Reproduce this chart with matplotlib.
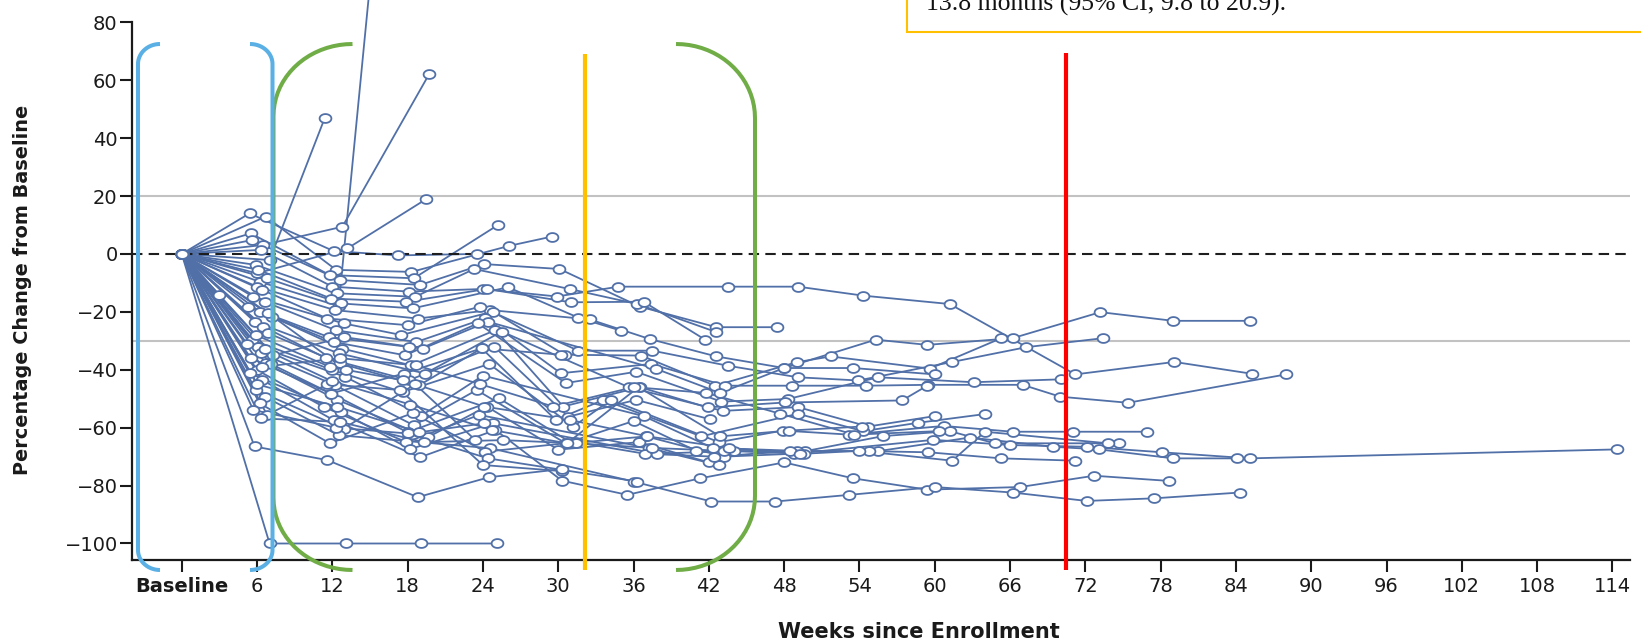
import numpy as np
import matplotlib
matplotlib.use('Agg')
import matplotlib.pyplot as plt
from matplotlib.lines import Line2D
from matplotlib.patches import Rectangle
from matplotlib.path import Path

# one row per patient: visit week and % change of tumour size from baseline
weeks = [
    [0, 7.0, 13.1, 19.1, 25.1],
    [0, 6.2, 12.5, 16.5],
    [0, 6.5, 12.8, 19.7],
    [0, 7.0, 11.4],
    [0, 6.0, 13.2, 19.5],
    [0, 5.4, 12.1, 17.2, 23.5],
    [0, 6.7, 12.3, 18.3, 26.1, 29.5],
    [0, 5.5, 11.8, 18.5, 25.2],
    [0, 5.6, 12.6, 19.0, 24.1, 30.1, 36.5, 42.6, 47.4],
    [0, 6.3, 12.0, 18.1, 24.0, 29.9, 34.8, 43.5, 49.1, 54.3, 61.2, 71.2, 79.1, 85.3],
    [0, 5.9, 12.4, 18.6, 23.3, 30.9, 36.3, 42.6],
    [0, 6.1, 11.9, 17.9, 24.3, 31.0, 36.8, 41.7],
    [0, 6.8, 12.7, 18.4, 26.0, 31.6, 35.0],
    [0, 6.0, 12.2, 18.8, 24.6, 32.5, 37.3, 42.6, 48.0, 55.3, 59.4, 66.2, 73.2, 79.0, 85.1],
    [0, 6.4, 11.6, 18.0, 23.8, 31.6, 37.5, 43.5, 49.1, 53.9, 61.4, 67.3, 73.4],
    [0, 5.7, 12.9, 17.5, 24.8, 30.5, 36.6, 42.5, 49.0, 51.7, 59.6, 65.3],
    [0, 6.6, 12.3, 18.7, 24.2, 30.2, 37.4, 43.3, 48.6, 54.5, 59.5, 67.0, 70.0, 75.4, 88.0],
    [0, 5.3, 11.7, 19.2, 24.4, 37.8, 42.9, 48.0, 53.5, 60.0],
    [0, 6.2, 12.1, 17.8, 23.6, 30.6, 36.2, 43.0, 48.3, 55.5, 63.1, 70.1],
    [0, 7.2, 12.8, 18.3, 25.0, 30.4, 36.5, 41.9, 48.1, 57.4, 59.4],
    [0, 5.8, 12.5, 19.4, 25.5, 35.6, 43.1, 49.1, 54.7, 60.0],
    [0, 6.5, 11.5, 18.1, 24.9, 30.8, 36.2, 42.1],
    [0, 6.9, 12.6, 18.9, 23.9, 29.8, 33.6, 41.4, 49.1, 54.3, 58.7, 64.0],
    [0, 5.6, 12.0, 17.6, 24.5, 31.2, 34.2, 42.8, 47.9, 53.2, 60.7, 66.2, 71.0, 76.9],
    [0, 6.1, 13.0, 19.1, 24.0, 36.8, 42.3, 49.7, 55.9, 61.2, 64.8, 74.7],
    [0, 6.3, 12.2, 18.5, 23.5, 30.6, 36.0, 41.0, 49.0, 55.5, 62.8, 69.4, 73.1, 79.0, 84.1],
    [0, 5.5, 11.9, 18.0, 25.3, 31.1, 37.0, 43.2, 48.8, 59.9, 66.0, 72.1, 78.1, 85.1, 114.4],
    [0, 6.7, 12.4, 19.6, 24.3, 30.0, 36.4, 42.0],
    [0, 6.0, 11.3, 17.9, 23.7, 37.2, 42.8],
    [0, 5.4, 12.7, 18.2, 24.8, 37.9, 44.0],
    [0, 6.4, 12.1, 19.0, 25.0, 30.3, 35.5, 41.3, 48.0, 53.5, 59.4, 66.8, 72.7, 78.7],
    [0, 5.9, 12.9, 18.6, 23.4],
    [0, 6.6, 12.5, 24.6, 36.0, 42.2, 47.3, 53.2, 60.0, 66.2, 72.1, 77.5, 84.3],
    [0, 6.2, 11.8, 18.4, 24.2, 31.4, 36.9, 42.4, 48.5, 54.8, 59.5, 65.3, 71.2],
    [0, 5.7, 12.3, 18.0, 24.4, 36.3],
    [0, 6.8, 11.6, 17.4, 24.0, 30.3],
    [0, 6.3, 12.6, 19.3, 25.6, 31.4, 37.5, 43.2, 49.6, 54.0, 61.4, 64.0, 73.8],
    [0, 5.8, 11.6, 18.8, 24.5, 30.3],
    [0, 3.0],
    [0, 6.9, 13.1],
    [0, 5.2],
    [0, 7.3, 12.9, 18.1],
    [0, 6.0, 12.4, 18.9, 24.1],
    [0, 7.1, 11.9, 17.7, 23.9, 30.2],
    [0, 6.6, 12.0, 18.2, 24.7, 30.7, 36.4, 42.9, 48.4, 54.2],
    [0, 5.9, 11.8, 17.6, 24.1, 30.9, 37.1, 43.6, 49.3],
    [0, 6.4, 12.6, 18.7, 23.8, 29.6, 36.0, 41.8, 47.7, 53.6, 60.3],
]
pct = [
    [0, -100, -100, -100, -100],
    [0, -9.6, -18, 160],
    [0, 3.1, 9.4, 62],
    [0, -2.1, 47],
    [0, -6.7, 1.9, 19],
    [0, 14, 1.0, -0.5, 0],
    [0, 12.9, -5.5, -6.2, 2.8, 6],
    [0, 7.1, -7.3, -8.4, 10],
    [0, 4.8, -9, -10.7, -3.5, -5.2, -18.2, -25.3, -25.3],
    [0, 1.4, -11.3, -13, -12.1, -14.7, -11.3, -11.3, -11.3, -14.4, -17.3, -41.6, -37.3, -41.4],
    [0, -3.8, -13.6, -14.8, -5.2, -12.1, -17.3, -27],
    [0, -5.5, -15.4, -16.5, -12.1, -16.7, -16.5, -29.6],
    [0, -8.4, -17.1, -18.8, -11.5, -22, -26.5],
    [0, -11.3, -19.4, -22.3, -19.4, -22.6, -29.4, -35.4, -39.4, -29.6, -31.4, -29.1, -20.1, -23.1, -23.1],
    [0, -12.4, -22.3, -24.6, -18.2, -33.4, -33.4, -38.6, -42.6, -43.7, -37.3, -32.2, -29.1],
    [0, -14.8, -24, -28, -19.9, -34.8, -35.1, -45.5, -37.4, -35.4, -39.6, -29.1],
    [0, -16.5, -26.4, -30.4, -22.2, -41.2, -38, -45.5, -45.5, -45.5, -45.2, -45.2, -49.3, -51.4, -41.6],
    [0, -18.2, -28.7, -32.7, -23.4, -39.7, -48, -39.4, -39.4, -41.6],
    [0, -19.9, -30.4, -35, -24, -44.6, -40.7, -51, -50.1, -42.6, -44.3, -43.3],
    [0, -21.7, -32.7, -38.5, -26.3, -52.7, -46, -53, -51.3, -50.6, -45.5],
    [0, -23.4, -34.3, -41.3, -26.8, -46, -54.2, -52.9, -59.6, -56],
    [0, -25.1, -36, -43.6, -32, -56.2, -50.4, -57.1],
    [0, -27.4, -37.8, -45.4, -32.6, -57.3, -50.4, -63, -55.2, -61.2, -58.3, -55.3],
    [0, -29.7, -40.1, -47.7, -38, -59.6, -50.4, -65, -61, -62.4, -59.4, -61.4, -61.4, -61.4],
    [0, -32, -42.4, -55.8, -42, -56, -67, -68.1, -62.9, -61.2, -65.4, -65.4],
    [0, -34.3, -45.3, -59.2, -47, -65.4, -57.7, -68, -68.1, -68.1, -63.4, -66.6, -67.5, -70.6, -70.6],
    [0, -36, -48.2, -61.6, -49.9, -65.4, -63, -70, -69, -64.2, -66, -66.6, -68.5, -70.6, -67.5],
    [0, -37.8, -50.4, -63.3, -52.7, -67.6, -65, -72],
    [0, -40.1, -52.8, -65, -55.6, -67, -73],
    [0, -41.2, -54.5, -67.4, -58.5, -69, -68],
    [0, -43.5, -57.4, -70.2, -60.8, -78.3, -83.2, -77.5, -72, -77.5, -81.4, -80.5, -76.6, -78.4],
    [0, -47, -60.3, -45, -64.3],
    [0, -49.3, -62.6, -67.1, -78.6, -85.5, -85.5, -83.2, -80.5, -82.4, -85.3, -84.4, -82.4],
    [0, -51.6, -65.4, -55, -68.3, -65, -69, -70, -68.1, -68.1, -68.5, -70.6, -71.4],
    [0, -53.9, -60, -62, -70.6, -78.6],
    [0, -55.6, -45, -47, -72.9, -75],
    [0, -56.8, -58, -65, -64.3, -65.4, -67, -68, -69, -68, -71.4, -61.4, -65.4],
    [0, -66.5, -71.2, -84, -77.1, -74.3],
    [0, -14.2],
    [0, -20.5, -40.1],
    [0, -31],
    [0, -35, -28.7, -32],
    [0, -45, -52.8, -61.6, -58.5],
    [0, -38, -48.2, -41.3, -32.6, -34.8],
    [0, -33, -44, -52, -60.8, -65.4, -46, -63, -61, -59.6],
    [0, -28, -39, -43.6, -52.7, -57.3, -63, -67, -69],
    [0, -39, -36, -38.5, -45, -52.7, -46, -48, -55.2, -62.4, -61.2],
]

xtick_weeks = list(range(0, 115, 6))
xtick_labels = ['Baseline'] + [str(w) for w in xtick_weeks[1:]]
ytick_values = list(range(-100, 81, 20))
ref_lines = [20, -30]
box_text = '13.8 months (95% CI, 9.8 to 20.9).'

W, H = 1641, 640
blue = '#5170a8'

fig = plt.figure(figsize=(W / 100, H / 100), dpi=100)
ax = fig.add_axes([132.3 / W, 80 / H, (1630 - 132.3) / W, 560 / H])
ax.set_xlim(-3.94, 115.4)
ax.set_ylim(-105.7, 87.7)

for y in ref_lines:
    ax.axhline(y, color='#c2c2c2', lw=1.5, zorder=1)
ax.axhline(0, color='#1e1e1e', lw=1.5, ls=(0, (5, 3)), zorder=2.5)

# slightly flattened open circle like the journal figure
t = np.linspace(0, 2 * np.pi, 40)
oval = Path(np.column_stack([np.cos(t), 0.75 * np.sin(t)]), closed=True)

for w, v in zip(weeks, pct):
    ax.plot(w, v, color=blue, lw=1.3, zorder=2)
for w, v in zip(weeks, pct):
    ax.plot(w, v, ls='none', marker=oval, ms=8.5, mfc='white', mec=blue,
            mew=1.3, zorder=3)

ax.set_xticks(xtick_weeks)
ax.set_xticklabels(xtick_labels)
ax.get_xticklabels()[0].set_fontweight('bold')
ax.set_yticks(ytick_values)
ax.tick_params(axis='both', direction='out', length=8.5, width=1.5,
               labelsize=14, colors='#1a1a1a')
ax.tick_params(axis='x', pad=4)
ax.tick_params(axis='y', pad=2)
for side in ['top', 'right']:
    ax.spines[side].set_visible(False)
for side in ['left', 'bottom']:
    ax.spines[side].set_linewidth(1.6)
    ax.spines[side].set_color('#1a1a1a')
ax.spines['left'].set_bounds(-105.7, 80)

fig.text(23 / W, 1 - 290 / H, 'Percentage Change from Baseline', rotation=90,
         ha='center', va='center', fontsize=13.9, fontweight='bold', color='#1a1a1a')
fig.text(918.6 / W, 1 - 637.5 / H, 'Weeks since Enrollment', ha='center',
         va='baseline', fontsize=15, fontweight='bold', color='#1a1a1a')


def px(x, y):
    return x / W, 1 - y / H


def bracket(xv, side, rx, ry, ytop, ybot, color):
    # rounded bracket drawn in picture pixels, side=+1 opens right, -1 opens left
    a = np.linspace(np.pi / 2, 0, 20)
    cx = xv + side * rx
    xs = list(cx - side * rx * np.cos(a)) + list(cx - side * rx * np.cos(a[::-1]))
    ys = list(ytop + ry - ry * np.sin(a)) + list(ybot - ry + ry * np.sin(a[::-1]))
    fx, fy = px(np.array(xs), np.array(ys))
    fig.add_artist(Line2D(fx, fy, color=color, lw=2.9, solid_capstyle='butt',
                          solid_joinstyle='round', zorder=10))


bracket(273.5, 1, 79, 72, 44, 570, '#70ad47')
bracket(755, -1, 79, 74, 44, 570, '#70ad47')
bracket(138, 1, 22, 20, 44, 570, '#5ab0e4')
bracket(272.5, -1, 22.5, 20, 44, 570, '#5ab0e4')

for xv, ytop, col in [(585, 54, '#ffc000'), (1065.5, 53, '#ff0000')]:
    fx, fy = px(np.array([xv, xv]), np.array([ytop, 570]))
    fig.add_artist(Line2D(fx, fy, color=col, lw=3.0, solid_capstyle='butt', zorder=11))

x0, y0 = px(906.7, 31.7)
fig.add_artist(Rectangle((x0, y0), 0.6, 0.2, facecolor='white', edgecolor='#ffc000',
                         lw=1.5, zorder=12))
fig.text(926 / W, 1 - 10.5 / H, box_text, family='Liberation Serif', fontsize=18.5,
         va='baseline', ha='left', color='#111111', zorder=13)

fig.savefig('out.png', dpi=100)
